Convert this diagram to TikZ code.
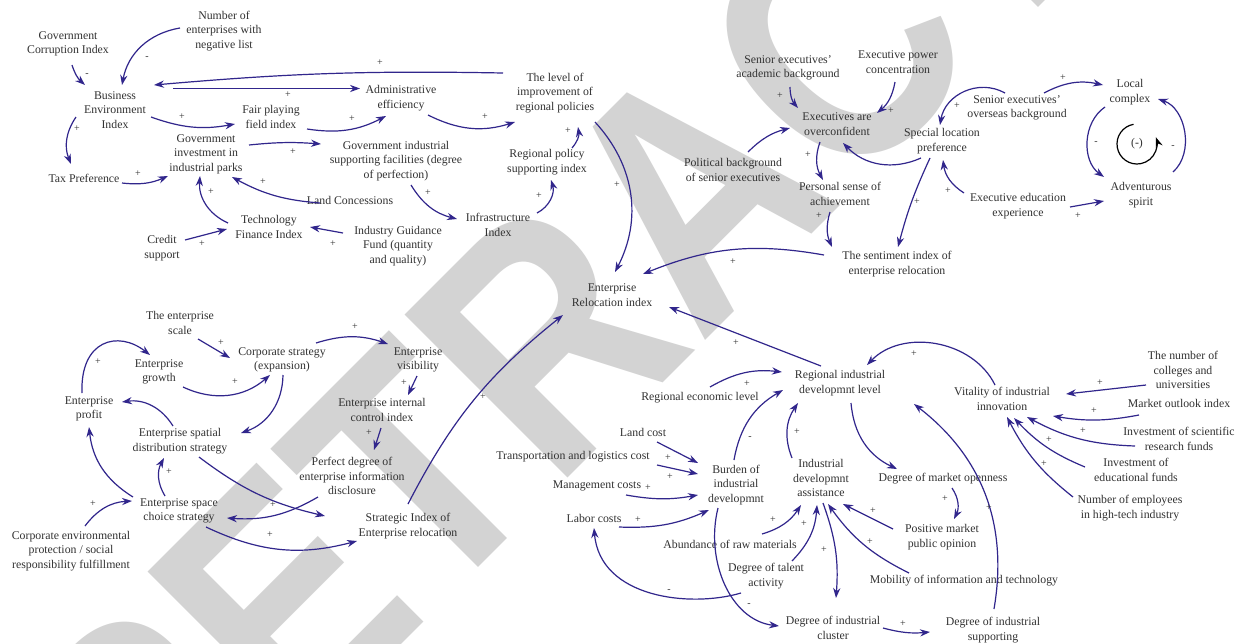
\documentclass[tikz,border=0pt]{standalone}
\usepackage{graphicx}
\usepackage{fontspec}
\setmainfont{Liberation Serif}
\newfontfamily\wmfont{Liberation Sans}
\usetikzlibrary{arrows.meta}
\definecolor{arrowc}{RGB}{49,38,140}
\definecolor{textc}{RGB}{50,50,50}
\definecolor{wmc}{RGB}{211,211,211}
\tikzset{
  lbl/.style={align=center, inner sep=0pt, text=textc, font=\fontsize{5.9pt}{7.3pt}\selectfont},
  sgn/.style={inner sep=0pt, text=textc, font=\fontsize{5pt}{6pt}\selectfont},
  link/.style={draw=arrowc, line width=0.6pt, -{Stealth[length=5pt,width=3.6pt]}},
  wm/.style={text=wmc, inner sep=0pt, rotate=45, anchor=base west,
    font=\wmfont\bfseries\fontsize{167.5pt}{170pt}\selectfont},
}
\begin{document}
\begin{tikzpicture}[x=0.5pt,y=-0.5pt]
\useasboundingbox (0,0) rectangle (1242,643);
\fill[white] (0,0) rectangle (1242,643);
\begin{scope}
  \clip (0,0) rectangle (1242,643);
  \node[wm] (wmark) at (152,894) {\scalebox{0.85}[1]{RETRACTED}};
\end{scope}

% ---------- policy environment ----------
\node[lbl] (gci) at (68,44) {Government\\Corruption Index};
\node[lbl] (nel) at (224,31) {Number of\\enterprises with\\negative list};
\node[lbl] (bei) at (115,110) {Business\\Environment\\Index};
\node[lbl] (fpf) at (271,117) {Fair playing\\field index};
\node[lbl] (ade) at (401,98) {Administrative\\efficiency};
\node[lbl] (lir) at (555,93) {The level of\\improvement of\\regional policies};
\node[lbl] (gip) at (206,154) {Government\\investment in\\industrial parks};
\node[lbl] (gis) at (396,161) {Government industrial\\supporting facilities (degree\\of perfection)};
\node[lbl] (rps) at (547,162) {Regional policy\\supporting index};
\node[lbl] (tax) at (84,178) {Tax Preference};
\node[lbl] (lco) at (350,200) {Land Concessions};
\node[lbl] (inf) at (498,225) {Infrastructure\\Index};
\node[lbl] (tfi) at (269,227) {Technology\\Finance Index};
\node[lbl] (cre) at (162,248) {Credit\\support};
\node[lbl] (igf) at (398,246) {Industry Guidance\\Fund (quantity\\and quality)};
\node[lbl] (eri) at (612,295) {Enterprise\\Relocation index};

% ---------- executives ----------
\node[lbl] (sea) at (788,68) {Senior executives'\\academic background};
\node[lbl] (epc) at (898,62) {Executive power\\concentration};
\node[lbl] (eao) at (837,124) {Executives are\\overconfident};
\node[lbl] (pbs) at (733,170) {Political background\\of senior executives};
\node[lbl] (pse) at (840,194) {Personal sense of\\achievement};
\node[lbl] (slp) at (942,141) {Special location\\preference};
\node[lbl] (seo) at (1017,108) {Senior executives'\\overseas background};
\node[lbl] (loc) at (1130,92) {Local\\complex};
\node[lbl] (adv) at (1141,195) {Adventurous\\spirit};
\node[lbl] (eee) at (1018,206) {Executive education\\experience};
\node[lbl] (sir) at (897,264) {The sentiment index of\\enterprise relocation};
\node[lbl] (loopsign) at (1137,144) {(-)};

% ---------- enterprise strategy ----------
\node[lbl] (tes) at (180,323) {The enterprise\\scale};
\node[lbl] (cse) at (282,360) {Corporate strategy\\(expansion)};
\node[lbl] (egr) at (159,372) {Enterprise\\growth};
\node[lbl] (epr) at (89,409) {Enterprise\\profit};
\node[lbl] (evi) at (418,360) {Enterprise\\visibility};
\node[lbl] (esd) at (180,441) {Enterprise spatial\\distribution strategy};
\node[lbl] (eic) at (382,410) {Enterprise internal\\control index};
\node[lbl] (pde) at (352,476) {Perfect degree of\\enterprise information\\disclosure};
\node[lbl] (esc) at (179,511) {Enterprise space\\choice strategy};
\node[lbl] (cep) at (71,551) {Corporate environmental\\protection / social\\responsibility fulfillment};
\node[lbl] (sie) at (408,526) {Strategic Index of\\Enterprise relocation};

% ---------- regional industry ----------
\node[lbl] (rid) at (840,383) {Regional industrial\\developmnt level};
\node[lbl] (rel) at (700,398) {Regional economic level};
\node[lbl] (via) at (1002,399) {Vitality of industrial\\innovation};
\node[lbl] (ncu) at (1183,370) {The number of\\colleges and\\universities};
\node[lbl] (moi) at (1179,403) {Market outlook index};
\node[lbl] (isr) at (1179,439) {Investment of scientific\\research funds};
\node[lbl] (ief) at (1136,470) {Investment of\\educational funds};
\node[lbl] (nem) at (1130,508) {Number of employees\\in high-tech industry};
\node[lbl] (lac) at (643,432) {Land cost};
\node[lbl] (tlc) at (573,457) {Transportation and logistics cost};
\node[lbl] (mac) at (597,486) {Management costs};
\node[lbl] (lab) at (594,518) {Labor costs};
\node[lbl] (bur) at (736,485) {Burden of\\industrial\\developmnt};
\node[lbl] (ida) at (821,478) {Industrial\\developmnt\\assistance};
\node[lbl] (dmo) at (943,479) {Degree of market openness};
\node[lbl] (pmo) at (942,537) {Positive market\\public opinion};
\node[lbl] (arm) at (730,544) {Abundance of raw materials};
\node[lbl] (dta) at (766,576) {Degree of talent\\activity};
\node[lbl] (mit) at (964,581) {Mobility of information and technology};
\node[lbl] (dic) at (833,628) {Degree of industrial\\cluster};
\node[lbl] (dis) at (993,630) {Degree of industrial\\supporting};

% ---------- links: policy environment ----------
\draw[link] ([shift={(4,21)}]gci.center) to[bend right=15] ([shift={(-30,-25)}]bei.center);
\draw[link] ([shift={(-44,-3)}]nel.center) to[bend right=35] ([shift={(7,-25)}]bei.center);
\draw[link] ([shift={(-52,-20)}]lir.center) to[bend right=3] ([shift={(39,-25)}]bei.center);
\draw[link] ([shift={(58,-21.5)}]bei.center) -- ([shift={(-41,-9.5)}]ade.center);
\draw[link] ([shift={(36,7)}]bei.center) to[bend right=15] ([shift={(-36,7)}]fpf.center);
\draw[link] ([shift={(-39,7)}]bei.center) to[bend right=28] ([shift={(-13,-14)}]tax.center);
\draw[link] ([shift={(38,5)}]tax.center) to[bend right=15] ([shift={(-38,22)}]gip.center);
\draw[link] ([shift={(43,-9)}]gip.center) to[bend left=5] ([shift={(-75,-17)}]gis.center);
\draw[link] ([shift={(-41,-4)}]tfi.center) to[bend left=35] ([shift={(-6,22)}]gip.center);
\draw[link] ([shift={(-30,3)}]lco.center) to[bend left=12] ([shift={(26,23)}]gip.center);
\draw[link] ([shift={(23,-8)}]cre.center) -- ([shift={(-42,2)}]tfi.center);
\draw[link] ([shift={(-55,-13)}]igf.center) -- ([shift={(41,0)}]tfi.center);
\draw[link] ([shift={(36,12)}]fpf.center) to[bend right=18] ([shift={(-15,18)}]ade.center);
\draw[link] ([shift={(27,17)}]ade.center) to[bend right=22] ([shift={(-40,29)}]lir.center);
\draw[link] ([shift={(15,24)}]gis.center) to[bend right=22] ([shift={(-41,-6)}]inf.center);
\draw[link] ([shift={(39,-12)}]inf.center) to[bend right=40] ([shift={(4,18)}]rps.center);
\draw[link] ([shift={(25,-14)}]rps.center) to[bend right=25] ([shift={(23,34)}]lir.center);
\draw[link] ([shift={(40,29)}]lir.center) to[bend left=35] ([shift={(3,-23)}]eri.center);

% ---------- links: executives ----------
\draw[link] ([shift={(2,19)}]sea.center) to[bend right=20] ([shift={(-39,-16)}]eao.center);
\draw[link] ([shift={(-3,20)}]epc.center) to[bend left=20] ([shift={(40,-11)}]eao.center);
\draw[link] ([shift={(15,-18)}]pbs.center) to[bend left=15] ([shift={(-47,4)}]eao.center);
\draw[link] ([shift={(-17,18)}]eao.center) to[bend right=24] ([shift={(-17,-14)}]pse.center);
\draw[link] ([shift={(-21,17)}]slp.center) to[bend left=35] ([shift={(6,19)}]eao.center);
\draw[link] ([shift={(-10,18)}]pse.center) to[bend right=20] ([shift={(-65,-17)}]sir.center);
\draw[link] ([shift={(-12,17)}]slp.center) to[bend right=5] ([shift={(1,-17)}]sir.center);
\draw[link] ([shift={(-73,-9)}]sir.center) to[bend right=16] ([shift={(31,-21)}]eri.center);
\draw[link] ([shift={(-12,-15)}]seo.center) .. controls +(-27,-15) and +(5,-30) .. ([shift={(-2,-16)}]slp.center);
\draw[link] ([shift={(27,-15)}]seo.center) to[bend left=20] ([shift={(-27,-7)}]loc.center);
\draw[link] ([shift={(-25,15)}]loc.center) to[bend right=55] ([shift={(-37,-18)}]adv.center);
\draw[link] ([shift={(32,-23)}]adv.center) to[bend right=60] ([shift={(28,7)}]loc.center);
\draw[link] ([shift={(-54,-13)}]eee.center) to[bend left=25] ([shift={(1,19)}]slp.center);
\draw[link] ([shift={(52,1)}]eee.center) -- ([shift={(-37,6)}]adv.center);
\draw[black, line width=0.6pt, -{Stealth[length=5pt,width=3.6pt]}]
  ([shift={(100:10pt)}]loopsign.center) arc[start angle=100, end angle=380, radius=10pt];

% ---------- links: enterprise strategy ----------
\draw[link] ([shift={(18,16)}]tes.center) -- ([shift={(-52,-2)}]cse.center);
\draw[link] ([shift={(24,15)}]egr.center) to[bend right=33] ([shift={(-12,15)}]cse.center);
\draw[link] ([shift={(-7,-16)}]epr.center) .. controls +(-2,-53) and +(-32,-25) .. ([shift={(-9,-17)}]egr.center);
\draw[link] ([shift={(1,15)}]cse.center) to[bend left=35] ([shift={(61,-8)}]esd.center);
\draw[link] ([shift={(-7,-15)}]esd.center) to[bend right=33] ([shift={(33,-7)}]epr.center);
\draw[link] ([shift={(-14,-15)}]esc.center) to[bend left=30] ([shift={(-16,17)}]esd.center);
\draw[link] ([shift={(-46,-14)}]esc.center) to[bend left=26] ([shift={(0,18)}]epr.center);
\draw[link] ([shift={(14,-25)}]cep.center) to[bend left=25] ([shift={(-47,-10)}]esc.center);
\draw[link] ([shift={(19,16)}]esd.center) to[bend right=12] ([shift={(-83,-10)}]sie.center);
\draw[link] ([shift={(-34,21)}]pde.center) to[bend left=17] ([shift={(48,7)}]esc.center);
\draw[link] ([shift={(27,16)}]esc.center) to[bend right=20] ([shift={(-51,15)}]sie.center);
\draw[link] ([shift={(34,-17)}]cse.center) to[bend left=18] ([shift={(-30,-16)}]evi.center);
\draw[link] ([shift={(-1,16)}]evi.center) -- ([shift={(26,-15)}]eic.center);
\draw[link] ([shift={(-1,18)}]eic.center) -- ([shift={(22,-26)}]pde.center);
\draw[link] ([shift={(0,-22)}]sie.center) to[bend left=12] ([shift={(-49,20)}]eri.center);

% ---------- links: regional industry ----------
\draw[link] ([shift={(10,-11)}]rel.center) to[bend left=18] ([shift={(-58,-11)}]rid.center);
\draw[link] ([shift={(14,10)}]lac.center) -- ([shift={(-38,-22)}]bur.center);
\draw[link] ([shift={(84,8)}]tlc.center) -- ([shift={(-38,-11)}]bur.center);
\draw[link] ([shift={(29,9)}]mac.center) to[bend right=10] ([shift={(-38,10)}]bur.center);
\draw[link] ([shift={(25,9)}]lab.center) to[bend right=13] ([shift={(-27,25)}]bur.center);
\draw[link] ([shift={(-2,-25)}]bur.center) to[bend left=25] ([shift={(-57,7)}]rid.center);
\draw[link] ([shift={(-18,23)}]bur.center) .. controls +(-13,52) and +(-49,-6) .. ([shift={(-54,-2)}]dic.center);
\draw[link] ([shift={(-25,17)}]dta.center) .. controls +(-51,15) and +(6,70) .. ([shift={(0,10)}]lab.center);
\draw[link] ([shift={(-29,-20)}]ida.center) to[bend left=28] ([shift={(-42,20)}]rid.center);
\draw[link] ([shift={(32,-10)}]arm.center) to[bend right=20] ([shift={(-20,27)}]ida.center);
\draw[link] ([shift={(26,-15)}]dta.center) to[bend right=20] ([shift={(-4,27)}]ida.center);
\draw[link] ([shift={(2,25)}]ida.center) to[bend left=12] ([shift={(3,-30)}]dic.center);
\draw[link] ([shift={(50,0)}]dic.center) to[bend right=10] ([shift={(-63,2)}]dis.center);
\draw[link] ([shift={(1,-21)}]dis.center) to[bend right=31] ([shift={(74,21)}]rid.center);
\draw[link] ([shift={(11,20)}]rid.center) to[bend right=30] ([shift={(-46,-10)}]dmo.center);
\draw[link] ([shift={(9,9)}]dmo.center) to[bend left=30] ([shift={(12,-18)}]pmo.center);
\draw[link] ([shift={(-49,-8)}]pmo.center) -- ([shift={(22,26)}]ida.center);
\draw[link] ([shift={(-55,-8)}]mit.center) to[bend left=14] ([shift={(7,26)}]ida.center);
\draw[link] ([shift={(-7,-14)}]via.center) to[bend right=55] ([shift={(27,-18)}]rid.center);
\draw[link] ([shift={(-37,15)}]ncu.center) -- ([shift={(64,-5)}]via.center);
\draw[link] ([shift={(-40,12)}]moi.center) to[bend left=10] ([shift={(51,17)}]via.center);
\draw[link] ([shift={(-44,7)}]isr.center) to[bend left=13] ([shift={(25,18)}]via.center);
\draw[link] ([shift={(-51,-3)}]ief.center) to[bend left=12] ([shift={(12,19)}]via.center);
\draw[link] ([shift={(-57,-11)}]nem.center) to[bend left=12] ([shift={(5,18)}]via.center);
\draw[link] ([shift={(-19,-17)}]rid.center) -- ([shift={(57,12)}]eri.center);

% ---------- polarity signs ----------
\foreach \p/\s [count=\i] in {
  (87,75)/-, (147,58)/-, (380,63)/+, (288,95)/+, (182,117)/+, (77,129)/+,
  (138,174)/+, (293,152)/+, (211,192)/+, (263,182)/+, (202,244)/+, (333,244)/+,
  (352,119)/+, (485,117)/+, (428,193)/+, (539,196)/+, (568,131)/+, (617,185)/+,
  (780,96)/+, (891,111)/+, (808,155)/+, (819,216)/+, (917,202)/+, (733,262)/+,
  (957,106)/+, (1063,78)/+, (1096,143)/-, (1173,147)/-, (948,191)/+, (1078,216)/+,
  (221,343)/+, (235,382)/+, (98,362)/+, (169,472)/+, (93,504)/+, (273,505)/+,
  (270,535)/+, (355,327)/+, (404,383)/+, (369,433)/+, (483,397)/+,
  (747,384)/+, (668,458)/+, (670,477)/+, (648,488)/+, (638,520)/+, (750,438)/-,
  (749,605)/-, (669,591)/-, (797,432)/+, (773,520)/+, (804,524)/+, (824,550)/+,
  (903,624)/+, (989,508)/+, (945,499)/+, (873,511)/+, (870,542)/+, (914,354)/+,
  (1100,383)/+, (1094,411)/+, (1083,431)/+, (1049,440)/+, (1044,464)/+, (736,343)/+}
  \node[sgn] (sg\i) at \p {\s};
\end{tikzpicture}
\end{document}
